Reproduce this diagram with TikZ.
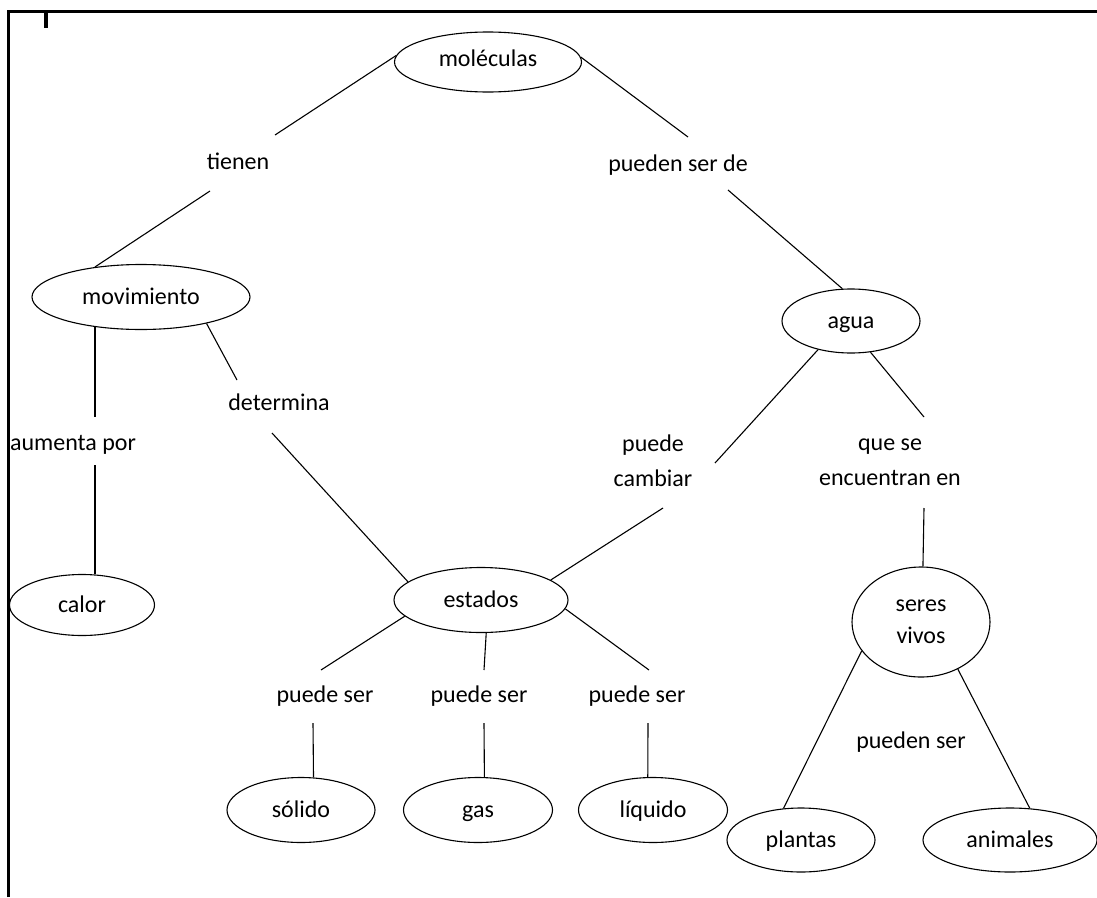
\documentclass[tikz,border=0pt]{standalone}
\usepackage{fontspec}
\setmainfont{Carlito}
\usetikzlibrary{shapes.geometric}
\begin{document}
\begin{tikzpicture}[x=1pt,y=-1pt,
  concept/.style={draw, ellipse, line width=1.1pt, inner sep=0pt,
    font=\fontsize{24}{32}\selectfont, text height=14pt, text depth=0pt},
  linkword/.style={inner sep=0pt, align=center, font=\fontsize{24}{35}\selectfont},
  conn/.style={line width=1.1pt},
  frameline/.style={line width=3pt}]
\useasboundingbox (0,0) rectangle (1097,897);

% page frame
\draw[frameline] (8,897) -- (8,11) -- (1097,11);
\draw[line width=3.5pt] (46,12) -- (46,28);

% concepts
\node[concept, text height=8pt, minimum width=187, minimum height=60] (mol) at (488,62) {moléculas};
\node[concept, minimum width=218, minimum height=65] (mov)   at (141,297) {movimiento};
\node[concept, minimum width=138, minimum height=64] (agua)  at (851,321) {agua};
\node[concept, minimum width=145, minimum height=61] (calor) at (82,605)  {calor};
\node[concept, minimum width=174, minimum height=65] (est)   at (481,600) {estados};
\node[concept, text height=, text depth=, align=center,
      minimum width=138, minimum height=110] (seres) at (921,622) {seres\\vivos};
\node[concept, minimum width=148, minimum height=65] (sol)   at (301,810) {sólido};
\node[concept, minimum width=149, minimum height=65] (gas)   at (478,810) {gas};
\node[concept, minimum width=149, minimum height=65] (liq)   at (653,810) {líquido};
\node[concept, minimum width=148, minimum height=64] (plan)  at (801,840) {plantas};
\node[concept, minimum width=174, minimum height=64] (anim)  at (1010,840) {animales};

% linking words
\node[linkword] (tienen) at (238,161) {tienen};
\node[linkword] (psd)    at (678,165) {pueden ser de};
\node[linkword] (det)    at (279,402) {determina};
\node[linkword] (aum)    at (73,445)  {aumenta por};
\node[linkword] (cam)    at (653,461) {puede\\cambiar};
\node[linkword] (enc)    at (890,462) {que se\\encuentran en};
\node[linkword] (ps1)    at (325,696) {puede ser};
\node[linkword] (ps2)    at (479,696) {puede ser};
\node[linkword] (ps3)    at (637,696) {puede ser};
\node[linkword] (psv)    at (911,742) {pueden ser};

% connectors
\draw[conn] (mol.176) -- ([shift={(37,-26)}]tienen.center);
\draw[conn] ([shift={(-28,30)}]tienen.center) -- (mov.147);
\draw[conn] (mol.3) -- ([shift={(10,-28)}]psd.center);
\draw[conn] ([shift={(50,25)}]psd.center) -- (agua.105);
\coordinate (aumtop) at ([shift={(22,-28)}]aum.center);
\coordinate (aumbot) at ([shift={(22,20)}]aum.center);
\draw[conn] (aumtop |- mov.214) -- (aumtop);
\draw[conn] (aumbot) -- (aumbot |- calor.67);
\draw[conn] (mov.338) -- ([shift={(-42,-22)}]det.center);
\draw[conn] ([shift={(-7,31)}]det.center) -- (est.166);
\draw[conn] (agua.221) -- ([shift={(62,2)}]cam.center);
\draw[conn] ([shift={(10,47)}]cam.center) -- (est.16);
\draw[conn] (agua.302) -- ([shift={(34,-45)}]enc.center);
\draw[conn] ([shift={(34,46)}]enc.center) -- (seres.88);
\draw[conn] (est.192) -- ([shift={(-4,-26)}]ps1.center);
\draw[conn] (est.279) -- ([shift={(5,-26)}]ps2.center);
\draw[conn] (est.354) -- ([shift={(12,-26)}]ps3.center);
\draw[conn] ([shift={(-12,27)}]ps1.center) -- (sol.69);
\draw[conn] ([shift={(5,27)}]ps2.center) -- (gas.79);
\draw[conn] ([shift={(11,27)}]ps3.center) -- (liq.99);
\draw[conn] (seres.206) -- (plan.119);
\draw[conn] (seres.308) -- (anim.58);
\end{tikzpicture}
\end{document}
